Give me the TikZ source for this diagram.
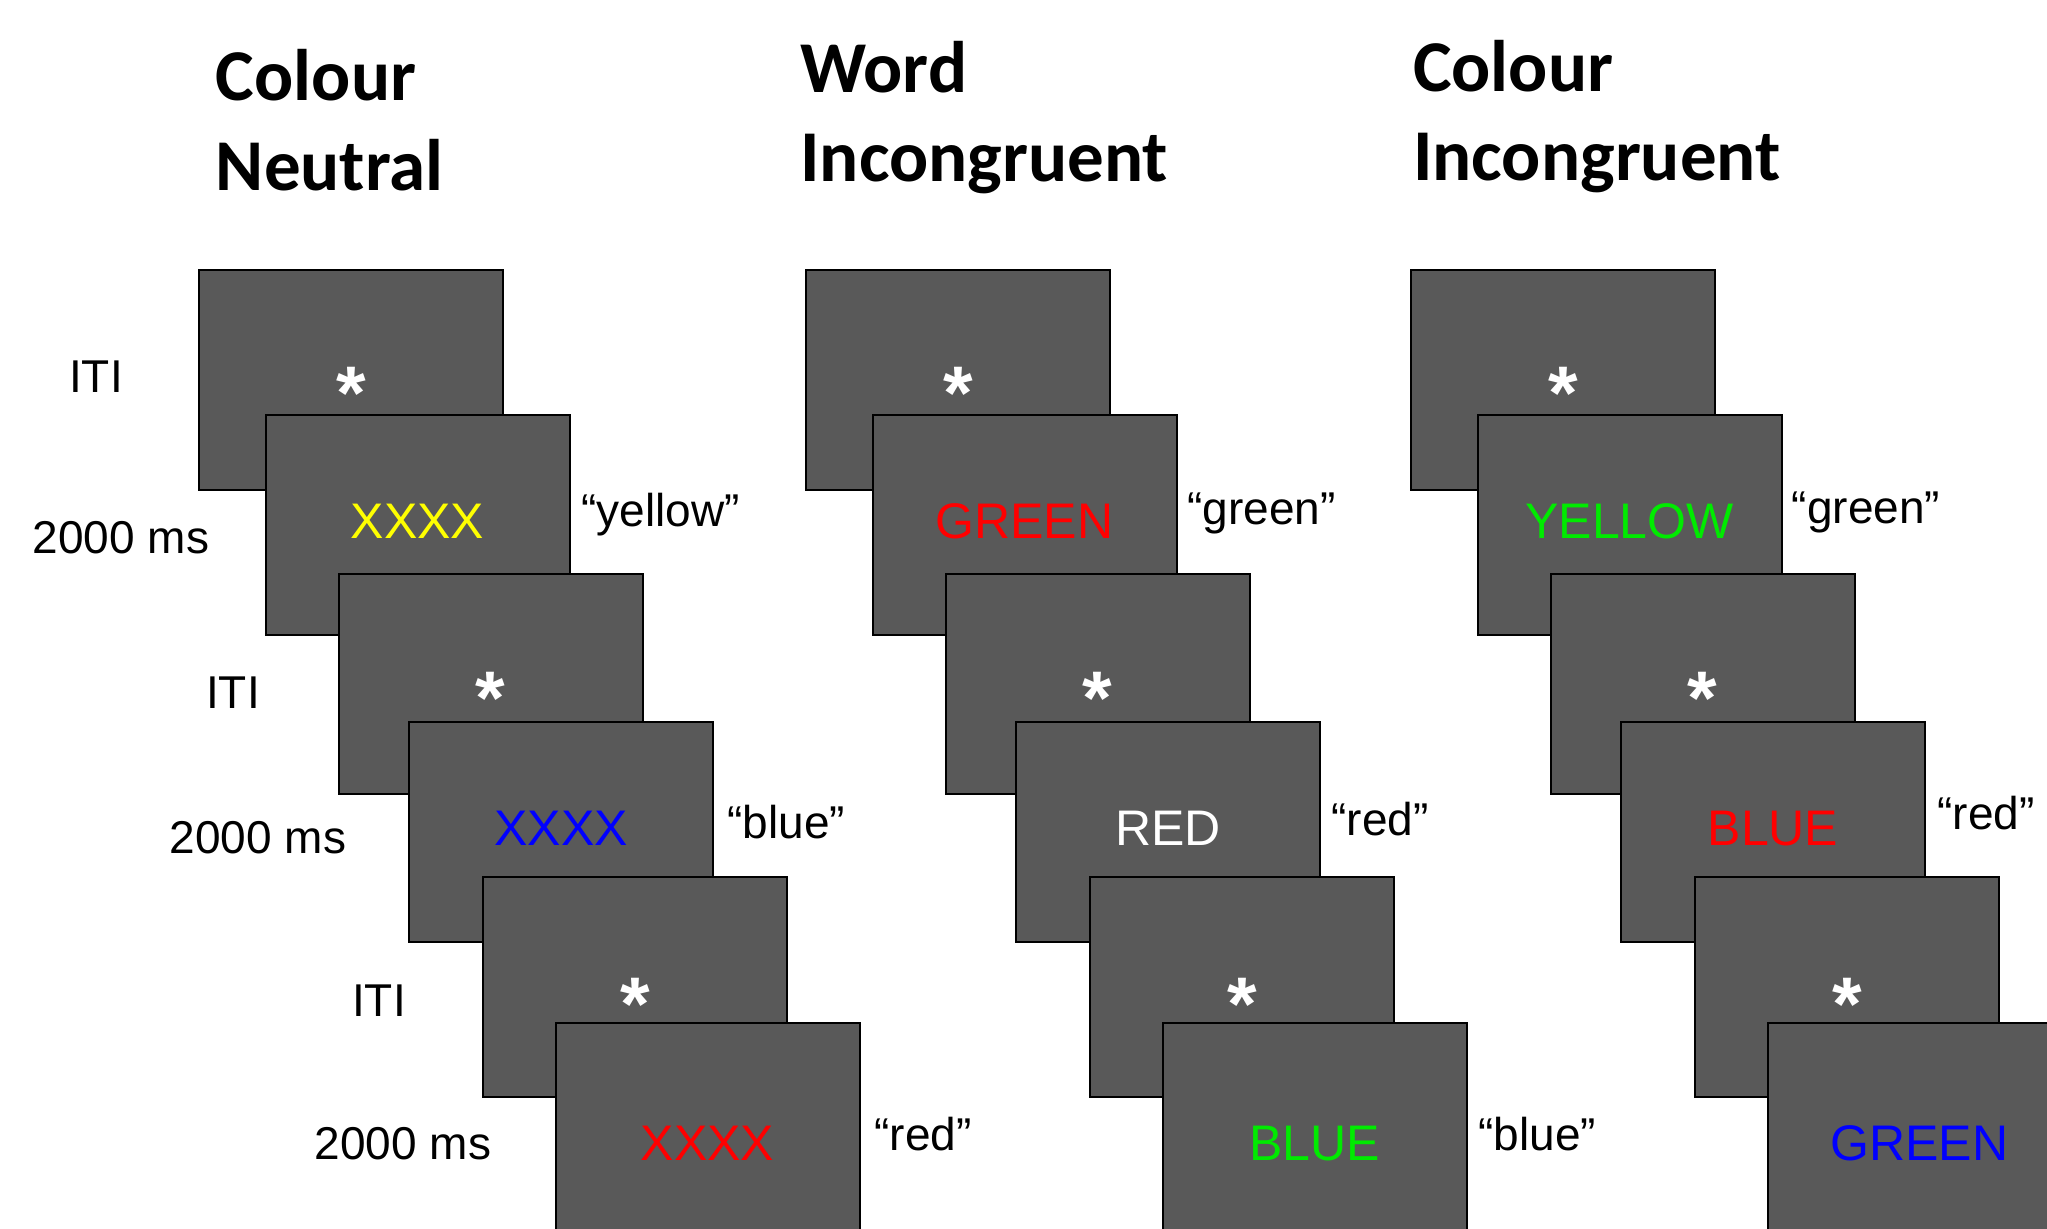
\documentclass[tikz,border=0pt]{standalone}
\usepackage{fontspec}
\setmainfont{Liberation Sans}
\newfontfamily\titlefont{Carlito}
\usetikzlibrary{calc}
\definecolor{scr}{HTML}{595959}
\definecolor{sgreen}{RGB}{0,235,0}
\definecolor{syellow}{RGB}{255,255,0}
\definecolor{sred}{RGB}{255,0,0}
\definecolor{sblue}{RGB}{0,0,255}
\begin{document}
\begin{tikzpicture}[x=0.5pt,y=-0.5pt,
  screen/.style={draw=black, line width=1pt, fill=scr, minimum width=152pt, minimum height=110pt, inner sep=0pt, anchor=north west},
  lbl/.style={font=\fontsize{23}{27}\selectfont, inner sep=0pt, anchor=base},
  resp/.style={font=\fontsize{23}{27}\selectfont, inner sep=0pt, anchor=base west},
  stim/.style={font=\fontsize{25}{30}\selectfont, inner sep=0pt, anchor=base},
  fix/.style={font=\bfseries\fontsize{38}{46}\selectfont, text=white, inner sep=0pt, anchor=base},
  ttl/.style={font=\titlefont\bfseries\fontsize{36.5}{45}\selectfont, inner sep=0pt, anchor=base west}]
\useasboundingbox (0,0) rectangle (2047,1229);
\clip (0,0) rectangle (2047,1229);

% titles
\node[ttl] (t1a) at (215.5,101) {Colour};
\node[ttl] (t1b) at (215.5,191) {Neutral};
\node[ttl] (t2a) at (800,93) {Word};
\node[ttl] (t2b) at (800,182) {Incongruent};
\node[ttl] (t3a) at (1412.6,92) {Colour};
\node[ttl] (t3b) at (1412.6,181) {Incongruent};

% timing labels
\node[lbl] (l1) at (96,393) {ITI};
\node[lbl] (l2) at (121,554) {2000 ms};
\node[lbl] (l3) at (233,709) {ITI};
\node[lbl] (l4) at (258,854) {2000 ms};
\node[lbl] (l5) at (379,1016) {ITI};
\node[lbl] (l6) at (403,1159) {2000 ms};

% ---------- column 1: Colour Neutral ----------
\node[screen] (b11) at (198,269) {};
\node[fix] (f11) at (b11.north |- 0,420) {*};
\node[screen] (b12) at (264.5,414) {};
\node[stim, text=syellow] (s12) at (b12.north |- 0,539) {XXXX};
\node[resp] (r12) at (581,527) {“yellow”};
\node[screen] (b13) at (337.7,573) {};
\node[fix] (f13) at (b13.north |- 0,725) {*};
\node[screen] (b14) at (408,721) {};
\node[stim, text=sblue] (s14) at (b14.north |- 0,846) {XXXX};
\node[resp] (r14) at (727,839) {“blue”};
\node[screen] (b15) at (482,876) {};
\node[fix] (f15) at (b15.north |- 0,1030) {*};
\node[screen] (b16) at (554.5,1022) {};
\node[stim, text=sred] (s16) at (b16.north |- 0,1160) {XXXX};
\node[resp] (r16) at (874,1150) {“red”};

% ---------- column 2: Word Incongruent ----------
\node[screen] (b21) at (805,269) {};
\node[fix] (f21) at (b21.north |- 0,420) {*};
\node[screen] (b22) at (871.5,414) {};
\node[stim, text=sred] (s22) at (b22.north |- 0,539) {GREEN};
\node[resp] (r22) at (1187,525) {“green”};
\node[screen] (b23) at (944.7,573) {};
\node[fix] (f23) at (b23.north |- 0,725) {*};
\node[screen] (b24) at (1015,721) {};
\node[stim, text=white] (s24) at (b24.north |- 0,846) {RED};
\node[resp] (r24) at (1331,835) {“red”};
\node[screen] (b25) at (1089,876) {};
\node[fix] (f25) at (b25.north |- 0,1030) {*};
\node[screen] (b26) at (1161.5,1022) {};
\node[stim, text=sgreen] (s26) at (b26.north |- 0,1160) {BLUE};
\node[resp] (r26) at (1478,1150) {“blue”};

% ---------- column 3: Colour Incongruent ----------
\node[screen] (b31) at (1410,269) {};
\node[fix] (f31) at (b31.north |- 0,420) {*};
\node[screen] (b32) at (1476.5,414) {};
\node[stim, text=sgreen] (s32) at (b32.north |- 0,539) {YELLOW};
\node[resp] (r32) at (1791.5,524) {“green”};
\node[screen] (b33) at (1549.7,573) {};
\node[fix] (f33) at (b33.north |- 0,725) {*};
\node[screen] (b34) at (1620,721) {};
\node[stim, text=sred] (s34) at (b34.north |- 0,846) {BLUE};
\node[resp] (r34) at (1937,830) {“red”};
\node[screen] (b35) at (1694,876) {};
\node[fix] (f35) at (b35.north |- 0,1030) {*};
\node[screen] (b36) at (1766.5,1022) {};
\node[stim, text=sblue] (s36) at (b36.north |- 0,1160) {GREEN};
\end{tikzpicture}
\end{document}
